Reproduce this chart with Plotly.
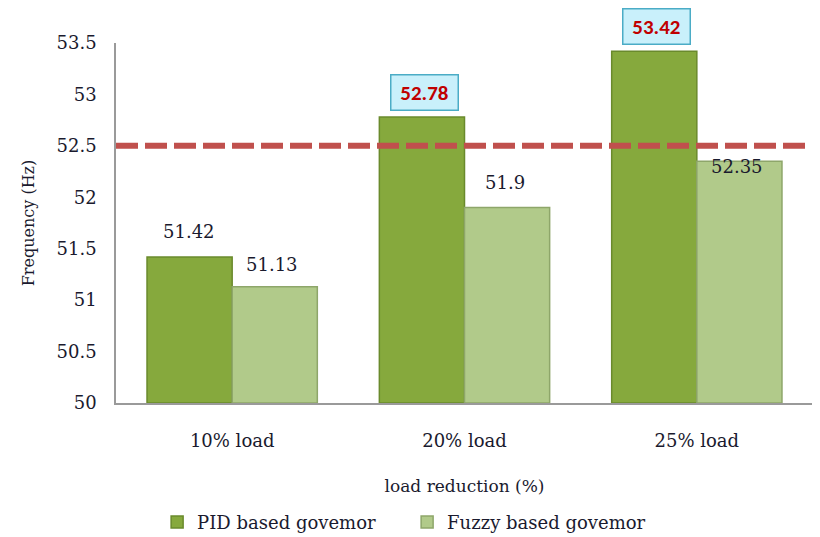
import plotly.graph_objects as go

categories = ["10% load", "20% load", "25% load"]
pid_values = [51.42, 52.78, 53.42]
fuzzy_values = [51.13, 51.9, 52.35]
threshold = 52.5
y_ticks = [50, 50.5, 51, 51.5, 52, 52.5, 53, 53.5]
y_tick_labels = ["50", "50.5", "51", "51.5", "52", "52.5", "53", "53.5"]
highlight = [False, True, True]

serif = "DejaVu Serif"
text_col = "#1a1a2e"

fig = go.Figure()
fig.add_trace(go.Bar(
    name="PID based govemor", x=categories, y=[v - 50 for v in pid_values], base=50,
    marker=dict(color="#86A93D", line=dict(color="#6A8A2C", width=1.5)),
))
fig.add_trace(go.Bar(
    name="Fuzzy based govemor", x=categories, y=[v - 50 for v in fuzzy_values], base=50,
    marker=dict(color="#B1CA8A", line=dict(color="#8EA66A", width=1.5)),
))

annotations = []
for c, v, h in zip(categories, pid_values, highlight):
    if h:
        annotations.append(dict(
            x=c, y=v, xref="x", yref="y", text=f"<b> {v:.2f} </b>", showarrow=False,
            xshift=-40, yshift=25, font=dict(family="Carlito, Liberation Sans, Arial", size=21, color="#C00000"),
            bgcolor="#C9F0FB", bordercolor="#4BACC6", borderwidth=1.5, borderpad=4,
        ))
    else:
        annotations.append(dict(
            x=c, y=v, xref="x", yref="y", text=f"{v:.2f}", showarrow=False,
            xshift=-43, yshift=25, font=dict(family=serif, size=18, color=text_col),
        ))
fuzzy_shift = [22, 25, -5]
for c, v, s in zip(categories, fuzzy_values, fuzzy_shift):
    annotations.append(dict(
        x=c, y=v, xref="x", yref="y", text=f"{v:g}", showarrow=False,
        xshift=40, yshift=s, font=dict(family=serif, size=18, color=text_col),
    ))

fig.update_layout(
    width=812, height=529,
    margin=dict(l=108, r=7, t=35, b=134, autoexpand=False),
    paper_bgcolor="white", plot_bgcolor="white",
    barmode="group", bargap=0.267, bargroupgap=0,
    font=dict(family=serif, size=18, color=text_col),
    xaxis=dict(showline=True, linecolor="#9a9a9a", linewidth=1.5, ticks="", showgrid=False,
               ticklabelstandoff=21, tickfont=dict(size=18),
               title=dict(text="load reduction (%)", font=dict(size=17), standoff=30)),
    yaxis=dict(range=[50, 53.5], tickvals=y_ticks, ticktext=y_tick_labels, showline=True,
               linecolor="#9a9a9a", linewidth=1.5, showgrid=False, ticks="", ticklabelstandoff=14,
               tickfont=dict(size=18), title=dict(text="Frequency (Hz)", font=dict(size=16), standoff=18)),
    legend=dict(orientation="h", x=0.059, xanchor="left", y=-0.28, yanchor="top",
                font=dict(size=18), itemwidth=30, entrywidth=205, entrywidthmode="pixels",
                traceorder="normal", tracegroupgap=0),
    showlegend=True,
    annotations=annotations,
    shapes=[dict(type="line", xref="paper", yref="y", x0=0, x1=1.01, y0=threshold, y1=threshold,
                 line=dict(color="#C0504D", width=6, dash="22px,7px"), layer="above")],
)

fig.write_html("out.html")
